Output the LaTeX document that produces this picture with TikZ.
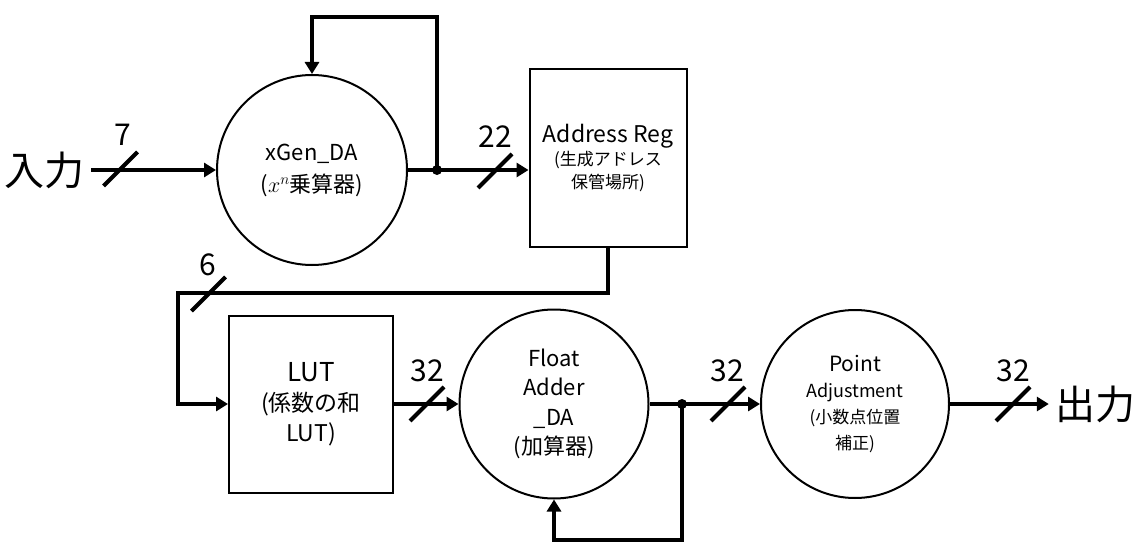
\documentclass[tikz,border=0pt]{standalone}
\usepackage{fix-cm}
\usepackage{fontspec}
\setmainfont{Noto Sans CJK JP}
\usetikzlibrary{arrows.meta}
\tikzset{
  x=1pt, y=-1pt,
  block/.style={draw, line width=2pt, rectangle, inner sep=0pt, align=center},
  unit/.style={draw, line width=2pt, circle, inner sep=0pt, align=center},
  conn/.style={line width=4pt, -{Triangle[length=12pt,width=14pt]}},
  wire/.style={line width=4pt},
  slashmark/.style={line width=4pt},
  bits/.style={font=\fontsize{30}{30}\selectfont, inner sep=0pt},
  io/.style={font=\fontsize{40}{40}\selectfont, inner sep=6pt},
  dot/.style={fill, circle, inner sep=0pt, minimum size=10pt}
}
\begin{document}
\begin{tikzpicture}
\useasboundingbox (0,0) rectangle (1138,543);

% nodes
\node[io] (in) at (45,170) {入力};
\node[unit, minimum size=190pt, font=\fontsize{22}{32}\selectfont] (xgen) at (312,170) {xGen\_DA\\($x^n$乗算器)};
\node[block, minimum width=157pt, minimum height=178pt, font=\fontsize{17}{23}\selectfont] (addr) at (608,158)
  {{\fontsize{23}{23}\selectfont Address Reg}\\(生成アドレス\\保管場所)};
\node[block, minimum width=164pt, minimum height=177pt, font=\fontsize{23}{30}\selectfont] (lut) at (311,404)
  {{\fontsize{26}{30}\selectfont LUT}\\(係数の和\\LUT)};
\node[unit, minimum size=189pt, font=\fontsize{22}{29.5}\selectfont] (fadd) at (554,404) {Float\\Adder\\\_DA\\(加算器)};
\node[unit, minimum size=188pt, font=\fontsize{17}{26}\selectfont] (point) at (855,404)
  {{\fontsize{21}{26}\selectfont Point}\\{\fontsize{18}{26}\selectfont Adjustment}\\(小数点位置\\補正)};
\node[io] (out) at (1095,404) {出力};

% junctions and corners
\coordinate (j1) at (437,170);
\coordinate (j2) at (682,404);
\coordinate (c6) at (178,293);

% connectors
\draw[conn] (in.east) -- (xgen.west);
\draw[wire] (xgen.east) -- (j1);
\draw[conn] (j1) -- (j1 -| addr.west);
\draw[conn] (j1) -- (437,17) -| (xgen.north);
\draw[conn] (addr.south) |- (c6) |- (lut.west);
\draw[conn] (lut.east) -- (fadd.west);
\draw[wire] (fadd.east) -- (j2);
\draw[conn] (j2) -- (point.west);
\draw[conn] (j2) -- (682,540) -| (fadd.south);
\draw[conn] (point.east) -- (out.west);
\node[dot] at (j1) {};
\node[dot] at (j2) {};

% bus width slashes
\coordinate (s7) at (120.5,169);
\coordinate (s22) at (495,171);
\coordinate (s6) at (208.5,294);
\coordinate (s32a) at (427,404);
\coordinate (s32b) at (728,404);
\coordinate (s32c) at (1013,404);
\foreach \s in {s7,s22,s6,s32a,s32b,s32c}{
  \draw[slashmark] ([shift={(-17,17)}]\s) -- ([shift={(17,-17)}]\s);
}
\node[bits] (b7) at (123,135) {7};
\node[bits] (b22) at (495,137) {22};
\node[bits] (b6) at (208,265) {6};
\node[bits] (b32a) at (427,371) {32};
\node[bits] (b32b) at (727,371) {32};
\node[bits] (b32c) at (1013,371) {32};
\end{tikzpicture}
\end{document}
